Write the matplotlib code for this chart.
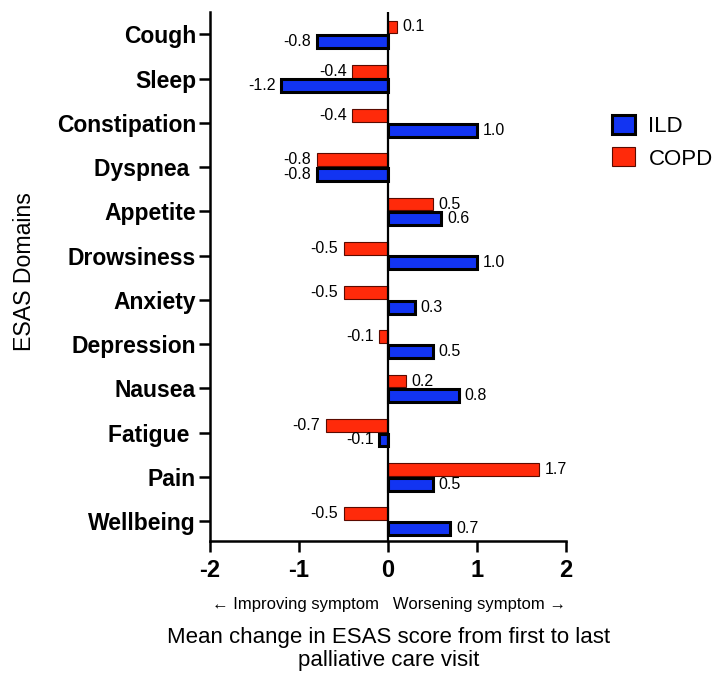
import matplotlib
matplotlib.use("Agg")
import matplotlib.pyplot as plt
import numpy as np
from matplotlib.patches import Patch

domains = ["Cough", "Sleep", "Constipation", "Dyspnea ", "Appetite", "Drowsiness",
           "Anxiety", "Depression", "Nausea", "Fatigue ", "Pain", "Wellbeing"]
ild = [-0.8, -1.2, 1.0, -0.8, 0.6, 1.0, 0.3, 0.5, 0.8, -0.1, 0.5, 0.7]
copd = [0.1, -0.4, -0.4, -0.8, 0.5, -0.5, -0.5, -0.1, 0.2, -0.7, 1.7, -0.5]
xticks = [-2, -1, 0, 1, 2]

blue = "#1234f2"
red = "#ff2a0a"

plt.rcParams['font.family'] = ['Liberation Sans', 'DejaVu Sans']

fig = plt.figure(figsize=(7.13, 6.73), dpi=100)
ax = fig.add_axes([0.2945, 0.196, 0.4995, 0.786])

n = len(domains)
y = np.arange(n)[::-1]
h, off = 0.29, 0.165

bars_c = ax.barh(y + off, copd, height=h, color=red, edgecolor="#5a0a00", linewidth=0.8, zorder=3)
bars_i = ax.barh(y - off, ild, height=h, color=blue, edgecolor="black", linewidth=2.2, zorder=3)

for bars, vals in ((bars_c, copd), (bars_i, ild)):
    for b, v in zip(bars, vals):
        yc = b.get_y() + b.get_height() / 2
        if v >= 0:
            ax.annotate(f"{v:.1f}", (v, yc), xytext=(4, 0), textcoords="offset points",
                        ha="left", va="center", fontsize=11.5)
        else:
            ax.annotate(f"{v:.1f}", (v, yc), xytext=(-4, 0), textcoords="offset points",
                        ha="right", va="center", fontsize=11.5)

ax.axvline(0, color="black", linewidth=1.6, zorder=4)

ax.set_xlim(-2, 2)
ax.set_ylim(-0.45, n - 1 + 0.5)
ax.set_xticks(xticks)
ax.set_xticklabels([str(t) for t in xticks], fontsize=17, fontweight="bold")
ax.set_yticks(y)
ax.set_yticklabels(domains, fontsize=16.5, fontweight="bold")
ax.tick_params(axis="both", direction="out", length=8, width=1.8)
ax.tick_params(axis="y", pad=2)
ax.tick_params(axis="x", pad=5)
for s in ("top", "right"):
    ax.spines[s].set_visible(False)
for s in ("left", "bottom"):
    ax.spines[s].set_linewidth(1.8)

fig.text(0.035, 0.596, "ESAS Domains", rotation=90, ha="center", va="center", fontsize=16.7)

fig.text(0.545, 0.102, "\u2190 Improving symptom   Worsening symptom \u2192",
         ha="center", va="center", fontsize=12)
fig.text(0.545, 0.036, "Mean change in ESAS score from first to last\npalliative care visit",
         ha="center", va="center", fontsize=16, linespacing=1.1)

handles = [Patch(facecolor=blue, edgecolor="black", linewidth=2.2, label="ILD"),
           Patch(facecolor=red, edgecolor="#5a0a00", linewidth=0.8, label="COPD")]
fig.legend(handles=handles, loc="upper left", bbox_to_anchor=(0.858, 0.829), frameon=False,
           fontsize=16, handlelength=1.05, handleheight=0.95, labelspacing=0.45,
           handletextpad=0.6, borderpad=0, borderaxespad=0)

fig.savefig("out.png", dpi=100)
